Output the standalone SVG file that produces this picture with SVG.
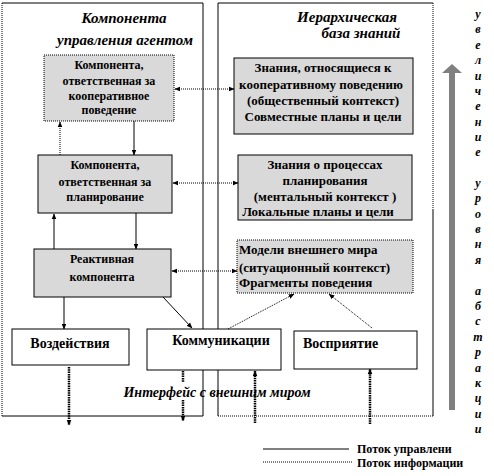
<svg xmlns="http://www.w3.org/2000/svg" width="494" height="476" viewBox="0 0 494 476">
<defs>
<marker id="ah" viewBox="0 0 10 10" refX="9" refY="5" markerWidth="6" markerHeight="6" markerUnits="userSpaceOnUse" orient="auto-start-reverse"><path d="M0,1 L10,5 L0,9 z" fill="#000"/></marker>
</defs>
<style>
text{font-family:'Liberation Serif','DejaVu Serif',serif;font-weight:bold;fill:#000}
.it{font-style:italic}
.t12{font-size:12px}
.t13{font-size:13px}
.t14{font-size:14px}
.t15{font-size:15px}
.mid{text-anchor:middle}
.box{fill:#d9d9d9;stroke:#000;stroke-width:1}
.wbox{fill:#fff;stroke:#000;stroke-width:1}
.dotb{stroke-dasharray:1 1}
.sl{stroke:#000;stroke-width:1;fill:none}
.dl{stroke:#000;stroke-width:1;stroke-dasharray:1 1;fill:none}
.thick{stroke:#000;stroke-width:2.5;stroke-dasharray:1.5 0.8;fill:none}
.vl{font-size:12px;font-style:italic;text-anchor:middle}
</style>

<g id="panel-left">
<line class="sl" x1="2" y1="3" x2="203" y2="3"/>
<line class="dl" x1="2" y1="3" x2="2" y2="416"/>
<line class="sl" x1="203" y1="3" x2="203" y2="416"/>
<line class="sl" x1="2" y1="416" x2="203" y2="416"/>
<text class="t15 it mid" x="124" y="23" font-family="Liberation Serif">Компонента</text>
<text class="t15 it mid" x="125" y="45" font-family="Liberation Serif">управления агентом</text>
</g>

<g id="panel-right">
<line class="sl" x1="218" y1="3" x2="433" y2="3"/>
<line class="sl" x1="218" y1="3" x2="218" y2="416"/>
<line class="dl" x1="433" y1="3" x2="433" y2="210"/>
<line class="sl" x1="433" y1="210" x2="433" y2="416"/>
<line class="dl" x1="218" y1="416" x2="433" y2="416"/>
<text class="t15 it mid" x="347" y="22">Иерархическая</text>
<text class="t15 it mid" x="361" y="38">база знаний</text>
</g>

<g id="box-coop">
<rect class="box dotb" x="44" y="55" width="130" height="66"/>
<text class="t12 mid" x="109" y="69">Компонента,</text>
<text class="t12 mid" x="109" y="85">ответственная за</text>
<text class="t12 mid" x="109" y="100">кооперативное</text>
<text class="t12 mid" x="109" y="114">поведение</text>
</g>

<g id="box-plan">
<rect class="box" x="38" y="155" width="134" height="58"/>
<text class="t12 mid" x="105" y="169">Компонента,</text>
<text class="t12 mid" x="105" y="186">ответственная за</text>
<text class="t12 mid" x="105" y="201">планирование</text>
</g>

<g id="box-react">
<rect class="box" x="34" y="249" width="137" height="48"/>
<text class="t12 mid" x="102" y="263">Реактивная</text>
<text class="t12 mid" x="102" y="281">компонента</text>
</g>

<g id="kb-coop">
<rect class="box" x="234" y="58" width="179" height="76"/>
<text class="t13 mid" x="323" y="72">Знания, относящиеся к</text>
<text class="t13 mid" x="321" y="89">кооперативному поведению</text>
<text class="t13 mid" x="323" y="105">(общественный контекст)</text>
<text class="t13 mid" x="323" y="121">Совместные планы и цели</text>
</g>

<g id="kb-plan">
<rect class="box" x="238" y="155" width="174" height="65"/>
<text class="t13 mid" x="325" y="169">Знания о процессах</text>
<text class="t13 mid" x="325" y="185">планирования</text>
<text class="t13 mid" x="325" y="201">(ментальный контекст )</text>
<text class="t13 mid" x="318" y="216">Локальные планы и цели</text>
</g>

<g id="kb-world">
<rect class="box dotb" x="237" y="240" width="176" height="53"/>
<text class="t13" x="239" y="254">Модели внешнего мира</text>
<text class="t13" x="239" y="272"> (ситуационный контекст)</text>
<text class="t13" x="239" y="287">Фрагменты поведения</text>
</g>

<g id="box-act">
<rect class="wbox" x="12" y="329" width="117" height="36"/>
<text class="t14 mid" x="70" y="348">Воздействия</text>
</g>

<g id="box-comm">
<rect class="wbox" x="147" y="329" width="134" height="41"/>
<text class="t14 mid" x="221" y="345">Коммуникации</text>
</g>

<g id="box-perc">
<rect class="wbox" x="294" y="331" width="123" height="38"/>
<text class="t14" x="303" y="348">Восприятие</text>
</g>

<g id="connectors">
<line class="sl" x1="134" y1="121" x2="134" y2="155" marker-end="url(#ah)"/>
<line class="dl" x1="60" y1="155" x2="60" y2="122" marker-end="url(#ah)"/>
<line class="sl" x1="136" y1="213" x2="136" y2="249" marker-end="url(#ah)"/>
<line class="sl" x1="54" y1="249" x2="54" y2="214" marker-end="url(#ah)"/>
<line class="dl" x1="175" y1="89" x2="234" y2="89" marker-start="url(#ah)" marker-end="url(#ah)"/>
<line class="dl" x1="173" y1="183" x2="238" y2="183" marker-start="url(#ah)" marker-end="url(#ah)"/>
<line class="dl" x1="172" y1="271" x2="237" y2="271" marker-start="url(#ah)" marker-end="url(#ah)"/>
<line class="sl" x1="64" y1="297" x2="64" y2="329" marker-end="url(#ah)"/>
<line class="sl" x1="163" y1="297" x2="192" y2="328" marker-end="url(#ah)"/>
<line class="dl" x1="228" y1="329" x2="294" y2="294" marker-end="url(#ah)"/>
<line class="dl" x1="372" y1="328" x2="329" y2="294" marker-end="url(#ah)"/>
<line class="thick" x1="69" y1="367" x2="69" y2="425" marker-end="url(#ah)"/>
<line class="thick" x1="183" y1="371" x2="183" y2="382"/>
<line class="thick" x1="183" y1="400" x2="183" y2="421" marker-end="url(#ah)"/>
<line class="thick" x1="255" y1="423" x2="255" y2="371" marker-end="url(#ah)"/>
<line class="thick" x1="370" y1="424" x2="370" y2="369" marker-end="url(#ah)"/>
</g>

<g id="interface-label">
<text class="t14 it mid" x="217" y="397">Интерфейс с внешним миром</text>
</g>

<g id="abstraction-axis">
<rect x="449" y="72" width="6" height="338" fill="#808080"/>
<polygon points="452,64 442,73 462,73" fill="#808080"/>
<text class="vl" x="478" y="18">у</text>
<text class="vl" x="478" y="33">в</text>
<text class="vl" x="478" y="49">е</text>
<text class="vl" x="478" y="64">л</text>
<text class="vl" x="478" y="80">и</text>
<text class="vl" x="478" y="95">ч</text>
<text class="vl" x="478" y="110">е</text>
<text class="vl" x="478" y="126">н</text>
<text class="vl" x="478" y="141">и</text>
<text class="vl" x="478" y="156">е</text>
<text class="vl" x="478" y="187">у</text>
<text class="vl" x="478" y="202">р</text>
<text class="vl" x="478" y="218">о</text>
<text class="vl" x="478" y="233">в</text>
<text class="vl" x="478" y="248">н</text>
<text class="vl" x="478" y="264">я</text>
<text class="vl" x="478" y="295">а</text>
<text class="vl" x="478" y="310">б</text>
<text class="vl" x="478" y="325">с</text>
<text class="vl" x="478" y="341">т</text>
<text class="vl" x="478" y="356">р</text>
<text class="vl" x="478" y="372">а</text>
<text class="vl" x="478" y="387">к</text>
<text class="vl" x="478" y="402">ц</text>
<text class="vl" x="478" y="418">и</text>
<text class="vl" x="478" y="433">и</text>
</g>

<g id="legend">
<line class="sl" x1="263" y1="449" x2="349" y2="449"/>
<text class="t12" x="357" y="453">Поток управлени</text>
<line class="dl" x1="263" y1="462" x2="352" y2="462"/>
<text class="t12" x="357" y="467">Поток информации</text>
</g>
</svg>
